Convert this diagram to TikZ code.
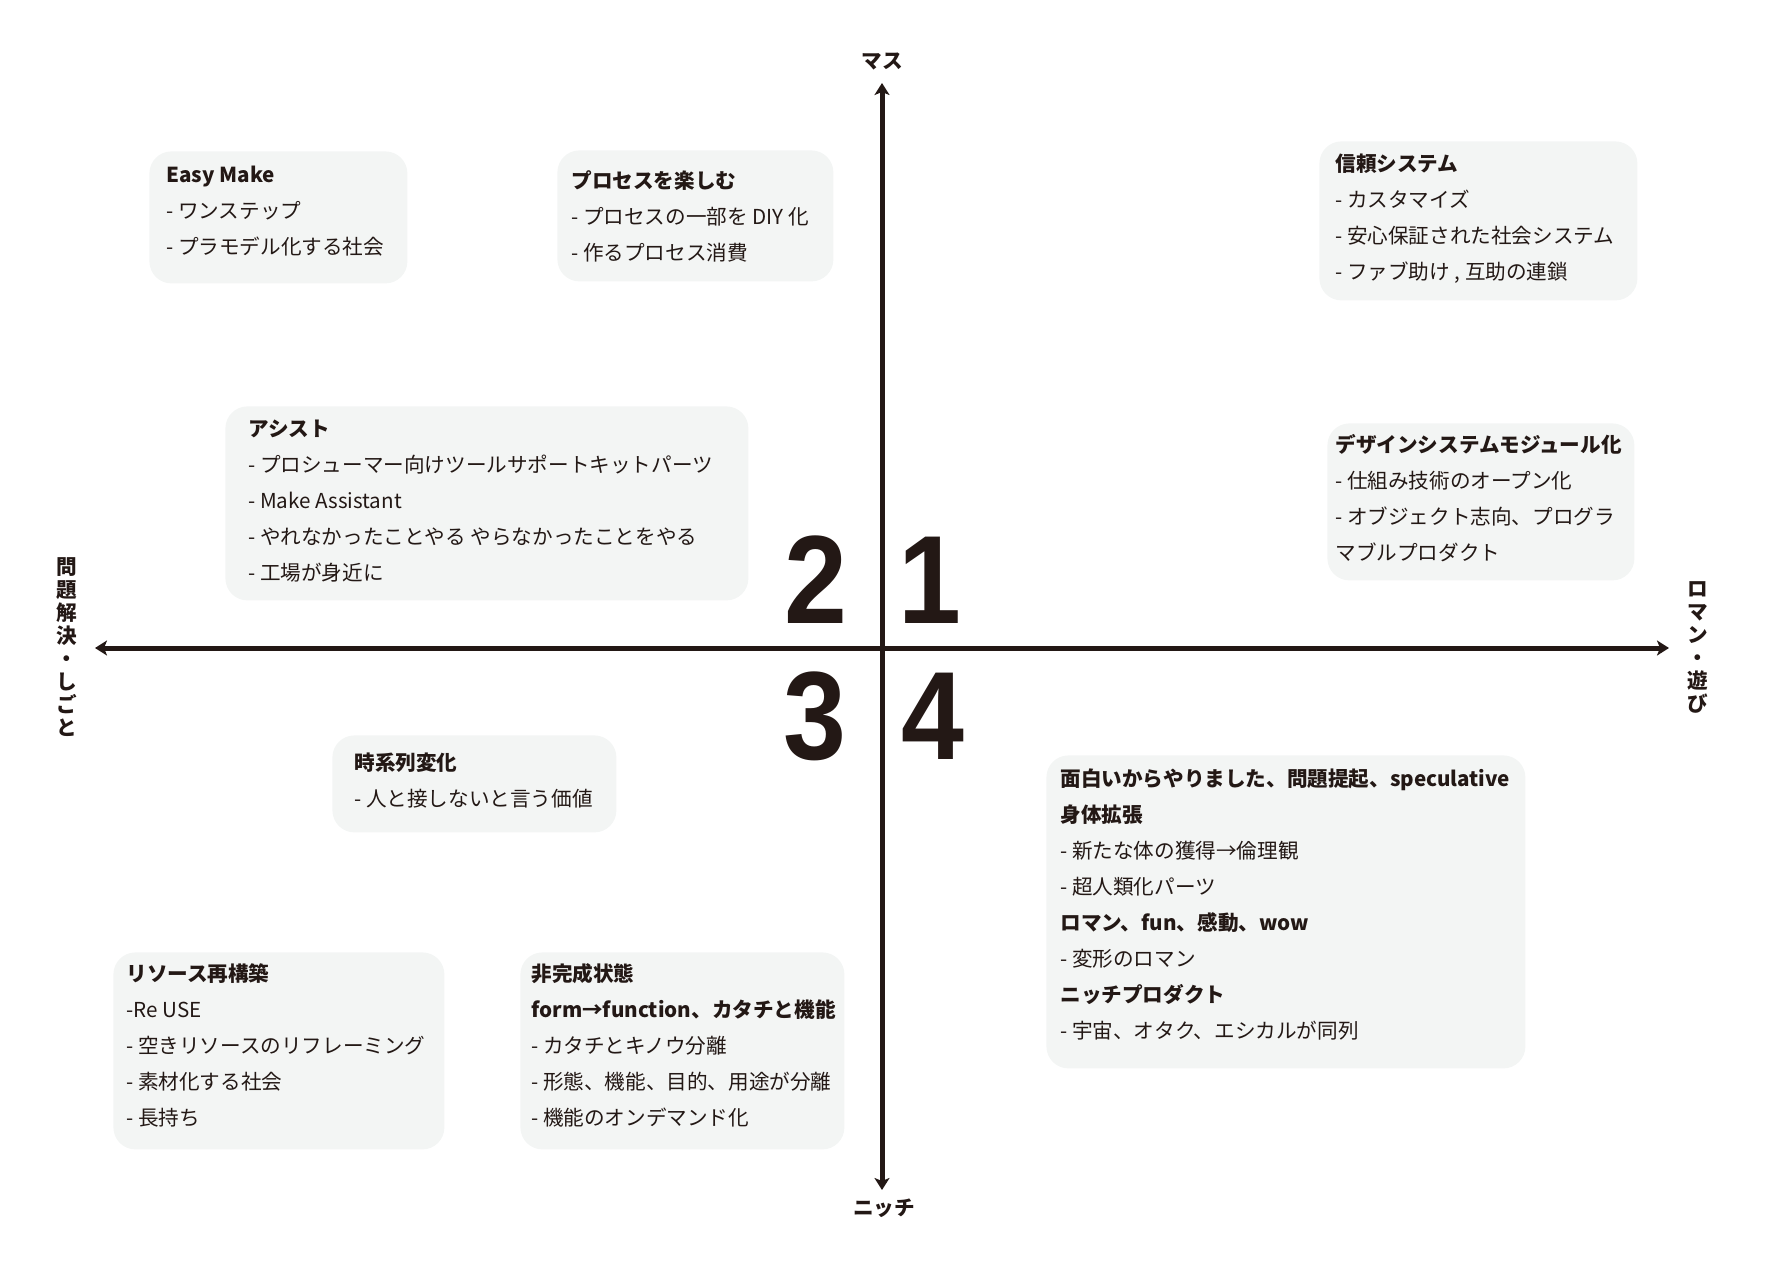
\documentclass[tikz,border=0pt]{standalone}
\usepackage{fontspec}
\setmainfont{Noto Sans CJK JP}
\newfontfamily\numfont[FakeStretch=0.9]{Liberation Sans}
\usepackage{tikz}
\usetikzlibrary{arrows.meta,positioning}
\definecolor{ink}{HTML}{231815}
\definecolor{cardbg}{HTML}{F3F5F4}

\begin{document}
\begin{tikzpicture}[
  x=0.5pt, y=-0.5pt,
  card/.style={fill=cardbg, rounded corners=11pt, inner sep=0pt, anchor=north west},
  note/.style={font=\fontsize{10.3}{18}\selectfont, align=left, inner sep=0pt, text=ink},
  axlbl/.style={font=\fontsize{10.3}{11.5}\selectfont\bfseries, align=center, inner sep=0pt, text=ink},
  qnum/.style={font=\numfont\fontsize{62.8}{62.8}\selectfont\bfseries, inner sep=0pt, text=ink},
  darr/.style={{Stealth[length=6pt,width=7.5pt,inset=1.5pt]}-{Stealth[length=6pt,width=7.5pt,inset=1.5pt]},
               line width=2.5pt, draw=ink},
]
\useasboundingbox (0,0) rectangle (1784,1264);

% quadrant 2
\node[card, minimum width=129pt, minimum height=66pt] (easy) at (149,151) {};
\node[note, below right=2.7pt and 8.5pt of easy.north west] (easytxt)
     {\strut\textbf{Easy Make}\\- ワンステップ\\- プラモデル化する社会};

\node[card, minimum width=138pt, minimum height=65.5pt] (enjoy) at (557,150) {};
\node[note, below right=6.2pt and 7pt of enjoy.north west] (enjoytxt)
     {\strut\textbf{プロセスを楽しむ}\\- プロセスの一部を DIY 化\\- 作るプロセス消費};

\node[card, minimum width=261.5pt, minimum height=97pt] (assist) at (225,406) {};
\node[note, below right=2.2pt and 11.5pt of assist.north west] (assisttxt)
     {\strut\textbf{アシスト}\\- プロシューマー向けツールサポートキットパーツ\\- Make Assistant\\
      - やれなかったことやる やらなかったことをやる\\- 工場が身近に};

% quadrant 1
\node[card, minimum width=159pt, minimum height=79.5pt] (trust) at (1319,141) {};
\node[note, below right=2.2pt and 8pt of trust.north west] (trusttxt)
     {\strut\textbf{信頼システム}\\- カスタマイズ\\- 安心保証された社会システム\\- ファブ助け , 互助の連鎖};

\node[card, minimum width=153.5pt, minimum height=78.5pt] (modular) at (1327,423) {};
\node[note, below right=1.7pt and 4pt of modular.north west] (modulartxt)
     {\strut\textbf{デザインシステムモジュール化}\\- 仕組み技術のオープン化\\- オブジェクト志向、プログラ\\マブルプロダクト};

% quadrant 3
\node[card, minimum width=142pt, minimum height=48.5pt] (timechg) at (332,735) {};
\node[note, below right=4.7pt and 11pt of timechg.north west] (timechgtxt)
     {\strut\textbf{時系列変化}\\- 人と接しないと言う価値};

\node[card, minimum width=165.5pt, minimum height=98.5pt] (reuse) at (113,952) {};
\node[note, below right=1.7pt and 6.5pt of reuse.north west] (reusetxt)
     {\strut\textbf{リソース再構築}\\-Re USE\\- 空きリソースのリフレーミング\\- 素材化する社会\\- 長持ち};

\node[card, minimum width=162pt, minimum height=98.5pt] (unfin) at (520,952) {};
\node[note, below right=1.7pt and 5.5pt of unfin.north west] (unfintxt)
     {\strut\textbf{非完成状態}\\\textbf{form→function、カタチと機能}\\- カタチとキノウ分離\\
      - 形態、機能、目的、用途が分離\\- 機能のオンデマンド化};

% quadrant 4
\node[card, minimum width=239.5pt, minimum height=156.5pt] (specul) at (1046,755) {};
\node[note, below right=2.7pt and 7pt of specul.north west] (specultxt)
     {\strut\textbf{面白いからやりました、問題提起、speculative}\\\textbf{身体拡張}\\
      - 新たな体の獲得→倫理観\\- 超人類化パーツ\\\textbf{ロマン、fun、感動、wow}\\
      - 変形のロマン\\\textbf{ニッチプロダクト}\\- 宇宙、オタク、エシカルが同列};

% axes
\node[axlbl] (mass) at (882,62) {マス};
\node[axlbl] (niche) at (884,1208) {ニッチ};
\node[axlbl] (work) at (67,647) {問\\題\\解\\決\\・\\し\\ご\\と};
\node[axlbl] (play) at (1698,647) {ロ\\マ\\ン\\・\\遊\\び};

\coordinate (ytop) at (882,83);
\coordinate (ybot) at (882,1190);
\coordinate (xleft) at (95,648);
\coordinate (xright) at (1669,648);
\draw[darr] (ybot) -- (ytop);
\draw[darr] (xleft) -- (xright);

\node[qnum] (q2) at (815.5,580) {2};
\node[qnum] (q1) at (929.5,580) {1};
\node[qnum] (q3) at (815,716) {3};
\node[qnum] (q4) at (933,716) {4};
\end{tikzpicture}
\end{document}
